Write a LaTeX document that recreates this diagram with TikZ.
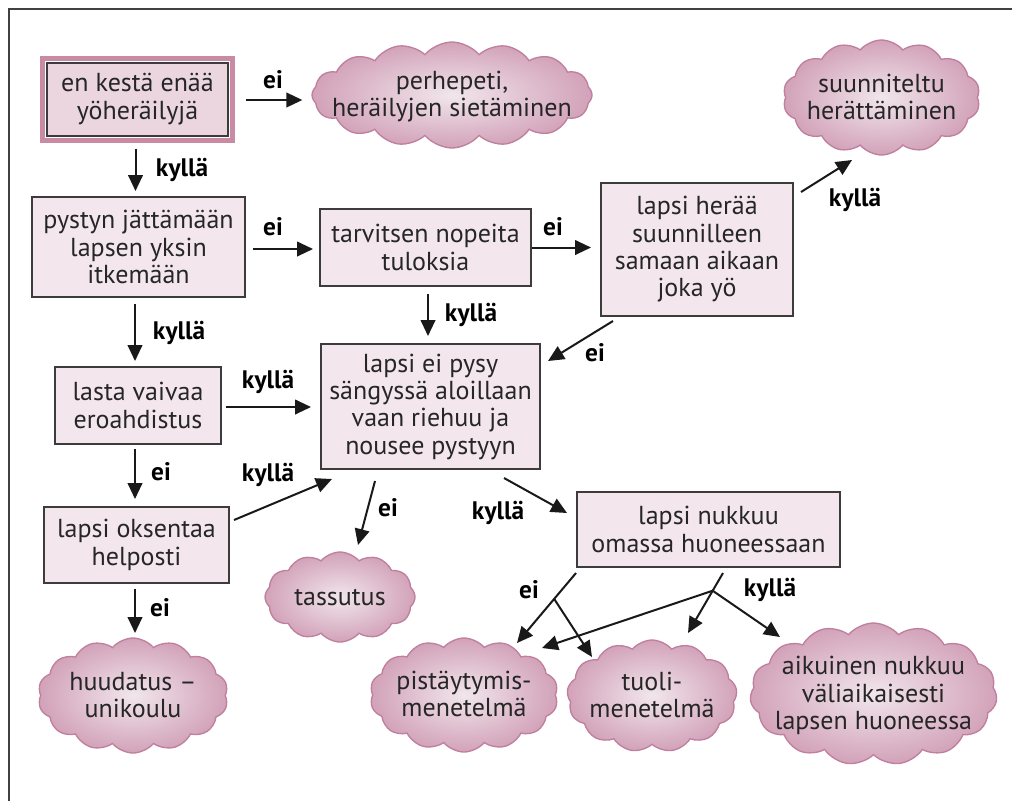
\documentclass[tikz,border=0pt]{standalone}
\usepackage{fontspec}
\setmainfont{PT Sans}
\usetikzlibrary{shapes.symbols,calc,arrows.meta}
\definecolor{boxfill}{HTML}{F3E7ED}
\definecolor{boxdraw}{HTML}{3C3C3C}
\definecolor{pinkframe}{HTML}{C98AA4}
\definecolor{boxonefill}{HTML}{EBD6E0}
\definecolor{cin}{HTML}{F1E6EC}
\definecolor{cout}{HTML}{D2A2B9}
\definecolor{cdraw}{HTML}{BF7F9D}
\definecolor{framecol}{HTML}{404040}
\newcommand\ctext[1]{\smash{\makebox[0pt]{\raisebox{-0.37em}{\begin{tabular}{@{}c@{}}#1\end{tabular}}}}}
\begin{document}
\begin{tikzpicture}[x=0.75pt,y=-0.75pt,
  every node/.style={font=\fontsize{19.5}{20.5}\selectfont, align=center, inner sep=0pt, text=black!85},
  sz/.style 2 args={minimum width=#1*0.75pt, minimum height=#2*0.75pt},
  rbox/.style={draw=boxdraw, line width=1.5pt, fill=boxfill, rectangle},
  puff/.style={cloud, cloud puffs=#1, cloud puff arc=100, cloud ignores aspect, draw=cdraw, line width=1pt, inner color=cin, outer color=cout},
  lbl/.style={font=\fontsize{19}{20}\selectfont\bfseries, text=black},
  arr/.style={line width=1.5pt, draw=black!90, -{Triangle[length=12pt,width=11pt]}}
]
\useasboundingbox (0,0) rectangle (1012,801);
\draw[framecol, line width=1.5pt] (9,801) -- (9,9) -- (1012,9);

% nodes
\node[rbox, fill=boxonefill, sz={181}{73}] (b1) at (137.5,99) {en kestä enää\\yöheräilyjä};
\draw[pinkframe, line width=3.75pt] ($(b1.north west)+(-3.5,-3.5)$) rectangle ($(b1.south east)+(3.5,3.5)$);
\node[puff=16, sz={280}{106}] (c1) at (452,95) {\ctext{perhepeti,\\heräilyjen sietäminen}};
\node[rbox, sz={213}{100}] (b2) at (138.5,247) {pystyn jättämään\\lapsen yksin\\itkemään};
\node[rbox, sz={211}{77}] (b3) at (425.5,247.5) {tarvitsen nopeita\\tuloksia};
\node[rbox, sz={192}{133}] (b4) at (697,249.5) {lapsi herää\\suunnilleen\\samaan aikaan\\joka yö};
\node[puff=14, sz={197}{115}] (c2) at (881.5,97.5) {\ctext{suunniteltu\\herättäminen}};
\node[rbox, sz={166}{77}] (b6) at (138,405.5) {lasta vaivaa\\eroahdistus};
\node[rbox, sz={219}{125}] (b5) at (430.5,406.5) {lapsi ei pysy\\sängyssä aloillaan\\vaan riehuu ja\\nousee pystyyn};
\node[rbox, sz={185}{76}] (b7) at (136.5,545) {lapsi oksentaa\\helposti};
\node[puff=12, sz={150}{90}] (c3) at (340,597) {\ctext{tassutus}};
\node[puff=14, sz={190}{115}] (c4) at (133,695.5) {\ctext{huudatus –\\unikoulu}};
\node[rbox, sz={263}{75}] (b8) at (708.5,529.5) {lapsi nukkuu\\omassa huoneessaan};
\node[puff=14, sz={188}{114}] (c5) at (464,695) {\ctext{pistäytymis-\\menetelmä}};
\node[puff=13, sz={170}{112}] (c6) at (652,696) {\ctext{tuoli-\\menetelmä}};
\node[puff=15, sz={247}{142}] (c7) at (873.5,694) {\ctext{aikuinen nukkuu\\väliaikaisesti\\lapsen huoneessa}};

% connectors
\draw[arr] ($(b1.south)+(-2,12)$) -- ($(b2.north)+(-3,-5)$);
\draw[arr] ($(b1.east)+(17,1)$) -- ($(b1.east -| c1.west)+(-9,1)$);
\draw[arr] ($(b2.east)+(7,2)$) -- ($(b2.east -| b3.west)+(-6,2)$);
\draw[arr] (b3.east) -- ($(b3.east -| b4.west)+(-9,0)$);
\draw[arr] ($(b3.south)+(2.5,7)$) -- ($(b5.north)+(-2.5,-7)$);
\draw[arr] ($(b4.north east)+(7,10)$) -- ($(c2.center)+(-29.5,62.5)$);
\draw[arr] ($(b4.south west)+(13,4)$) -- ($(b5.north east)+(7,18)$);
\draw[arr] ($(b2.south)+(-3.5,6)$) -- ($(b6.north)+(-3,-5)$);
\draw[arr] ($(b6.east)+(4,1.5)$) -- ($(b6.east -| b5.west)+(-9,1.5)$);
\draw[arr] ($(b6.south)+(-3,4)$) -- ($(b7.north)+(-1.5,-7)$);
\draw[arr] ($(b7.north east)+(4,14)$) -- ($(b5.south west)+(12,9)$);
\draw[arr] ($(b5.south)+(-55.5,11)$) -- ($(c3.center)+(18,-52)$);
\draw[arr] ($(b7.south)+(-1.5,5)$) -- ($(c4.center)+(2,-62.5)$);
\draw[arr] ($(b5.south east)+(-37,8)$) -- ($(b8.west)+(-9,-16.5)$);
% ei branch
\coordinate (e1) at ($(b8.south west)+(0,5)$);
\coordinate (e2) at ($(c5.center)+(53,-52)$);
\coordinate (ebr) at ($(e1)!0.37!(e2)$);
\draw[arr] (e1) -- (e2);
\draw[arr] (ebr) -- ($(c6.center)+(-60,-39)$);
% kylla branch
\coordinate (k1) at ($(b8.south)+(14.5,5)$);
\coordinate (k2) at ($(c6.center)+(36,-63)$);
\coordinate (kbr) at ($(k1)!0.295!(k2)$);
\draw[arr] (k1) -- (k2);
\draw[arr] (kbr) -- ($(c7.center)+(-93.5,-57)$);
\draw[arr] (kbr) -- ($(c5.center)+(78,-47)$);

% labels
\node[lbl] (l1) at (182,170) {kyllä};
\node[lbl] (l2) at (273,80) {ei};
\node[lbl] (l3) at (273,227) {ei};
\node[lbl] (l4) at (553,227) {ei};
\node[lbl] (l5) at (471,315) {kyllä};
\node[lbl] (l6) at (855,200) {kyllä};
\node[lbl] (l7) at (595,353) {ei};
\node[lbl] (l8) at (179,333) {kyllä};
\node[lbl] (l9) at (268,382) {kyllä};
\node[lbl] (l10) at (161,472) {ei};
\node[lbl] (l11) at (268,475) {kyllä};
\node[lbl] (l12) at (388,508) {ei};
\node[lbl] (l13) at (160,608) {ei};
\node[lbl] (l14) at (498,513) {kyllä};
\node[lbl] (l15) at (529,590) {ei};
\node[lbl] (l16) at (770,590) {kyllä};
\end{tikzpicture}
\end{document}
